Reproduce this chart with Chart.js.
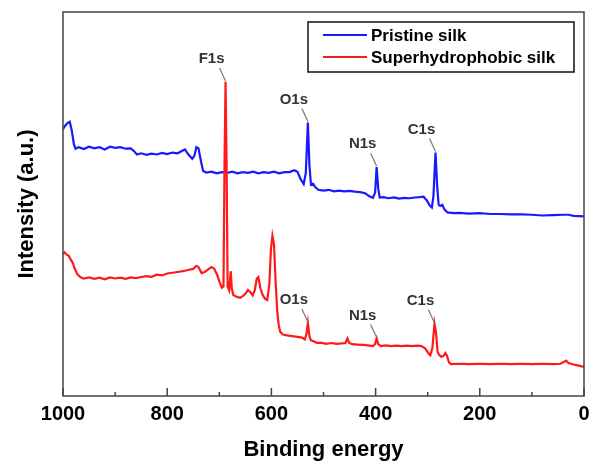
<!DOCTYPE html>
<html>
<head>
<meta charset="utf-8">
<script src="https://cdn.jsdelivr.net/npm/chart.js@4/dist/chart.umd.min.js"></script>
<style>
  html, body { margin: 0; padding: 0; background: #fff; }
  #wrap { width: 592px; height: 464px; }
</style>
</head>
<body>
<div id="wrap"><canvas id="xps"></canvas></div>
<script>
// XPS survey, values (arbitrary intensity 0-100)
const seriesNames = ["Pristine silk", "Superhydrophobic silk"];
const seriesColors = ["rgb(25,25,255)", "rgb(255,25,25)"];

const pristineEnergy = [1000, 997, 992, 987, 983, 979, 976, 970, 960, 950, 940, 930, 920, 910, 900, 890, 880, 870, 864, 858,
  850, 840, 830, 820, 810, 800, 790, 780, 772, 766, 760, 752, 748, 744, 740, 735, 731, 725, 715, 705,
  695, 685, 675, 665, 655, 645, 635, 625, 615, 605, 595, 585, 575, 565, 556, 550, 544, 538, 534, 530,
  527, 524, 520, 516, 510, 500, 490, 480, 470, 460, 450, 440, 430, 420, 412, 405, 401, 398, 395, 392,
  385, 375, 365, 355, 345, 335, 325, 315, 308, 302, 296, 292, 289, 285, 282, 279, 276, 272, 268, 262,
  250, 240, 220, 200, 180, 160, 140, 120, 100, 80, 60, 40, 30, 20, 0];
const pristineIntensity = [69.5, 70.2, 71.0, 71.4, 69.0, 65.5, 64.4, 64.8, 64.3, 64.9, 64.5, 64.8, 64.2, 64.9, 64.6, 64.8, 64.4, 64.5, 63.8, 62.9,
  63.2, 62.8, 63.1, 62.9, 63.3, 63.0, 63.4, 63.2, 63.8, 64.2, 63.0, 61.8, 62.5, 64.8, 64.5, 61.0, 58.6, 58.2, 58.4, 58.0,
  58.3, 58.1, 58.4, 58.0, 58.3, 58.1, 58.4, 58.0, 58.3, 58.1, 58.4, 58.0, 58.3, 58.3, 58.8, 58.4, 56.5, 55.2, 58.0, 71.2,
  60.0, 55.0, 55.3, 54.4, 53.7, 53.5, 53.7, 53.3, 53.5, 53.3, 53.4, 53.2, 53.1, 52.8, 52.0, 51.6, 53.0, 59.6, 54.0, 51.7,
  51.8, 51.5, 51.7, 51.4, 51.6, 51.5, 51.7, 51.8, 51.9, 51.0, 49.6, 49.1, 52.0, 63.4, 55.0, 49.8, 49.5, 49.8, 48.6, 47.8,
  47.6, 47.7, 47.5, 47.6, 47.4, 47.4, 47.3, 47.3, 47.2, 47.0, 47.1, 47.2, 47.2, 46.9, 46.8];

const superEnergy = [1000, 997, 993, 989, 985, 981, 977, 972, 966, 960, 950, 940, 930, 920, 910, 900, 890, 880, 870, 860,
  850, 840, 830, 820, 810, 800, 790, 780, 770, 760, 750, 744, 740, 734, 728, 722, 715, 710, 704, 699,
  695, 692, 690, 688, 686, 684, 681, 678, 676, 673, 668, 660, 655, 650, 645, 640, 636, 632, 628, 625,
  621, 617, 612, 608, 604, 601, 598, 595, 592, 589, 586, 583, 578, 570, 560, 550, 541, 536, 533, 530,
  527, 524, 518, 512, 505, 495, 485, 475, 465, 458, 454, 451, 445, 435, 425, 415, 405, 401, 398, 395,
  390, 380, 370, 360, 350, 340, 330, 320, 312, 305, 299, 295, 291, 287, 284, 281, 278, 274, 270, 266,
  263, 259, 255, 240, 220, 200, 180, 160, 140, 120, 100, 80, 60, 45, 38, 34, 30, 20, 10, 0];
const superIntensity = [37.0, 37.4, 36.8, 36.5, 35.5, 34.6, 33.0, 31.6, 30.9, 30.6, 30.9, 30.5, 30.8, 30.4, 30.9, 30.6, 30.8, 30.5, 30.9, 30.7,
  31.0, 31.2, 31.0, 31.6, 31.4, 31.9, 32.1, 32.3, 32.5, 32.8, 33.1, 33.9, 33.6, 32.0, 32.3, 32.9, 33.6, 33.2, 31.5, 29.5,
  28.2, 28.5, 60.0, 81.8, 60.0, 28.5, 27.5, 32.5, 28.0, 26.3, 25.9, 25.6, 26.0, 26.6, 27.6, 27.0, 26.2, 27.5, 30.6, 31.0,
  28.0, 26.4, 25.3, 25.0, 29.0, 38.0, 41.7, 39.5, 30.0, 22.5, 18.5, 16.7, 16.0, 15.8, 15.6, 15.4, 15.2, 14.7, 16.0, 19.0,
  15.5, 14.5, 14.2, 13.8, 13.9, 13.6, 13.8, 13.6, 13.7, 13.8, 15.0, 13.9, 13.5, 13.4, 13.3, 13.2, 13.0, 13.5, 15.0, 13.5,
  13.0, 13.2, 13.0, 13.1, 13.0, 13.1, 13.0, 13.1, 13.0, 12.4, 11.2, 10.6, 12.5, 18.8, 16.5, 11.5, 10.7, 10.2, 10.4, 11.2,
  10.5, 8.7, 8.3, 8.4, 8.3, 8.4, 8.3, 8.4, 8.3, 8.4, 8.3, 8.4, 8.3, 8.4, 8.9, 9.2, 8.6, 8.2, 7.9, 7.6];

// x axis ticks
const majorTicks = [1000, 800, 600, 400, 200, 0];
const minorTicks = [900, 700, 500, 300, 100];

// peak labels: name, which series, energy of the peak point
const peakNames = ["F1s", "O1s", "N1s", "C1s", "O1s", "N1s", "C1s"];
const peakSeries = [1, 0, 0, 0, 1, 1, 1];
const peakEnergy = [688, 530, 398, 285, 530, 398, 287];

const FONT = "'Liberation Sans', Arial, sans-serif";

function pairs(xs, ys) {
  return xs.map((x, i) => ({ x: x, y: ys[i] }));
}

const seriesEnergy = [pristineEnergy, superEnergy];
const seriesIntensity = [pristineIntensity, superIntensity];

const decorations = {
  id: "decorations",
  afterDatasetsDraw(chart) {
    const ctx = chart.ctx;
    const a = chart.chartArea;
    const xs = chart.scales.x;
    const ys = chart.scales.y;
    ctx.save();

    // peak labels with leader lines
    ctx.font = "bold 15px " + FONT;
    ctx.fillStyle = "#333";
    ctx.textAlign = "center";
    ctx.textBaseline = "middle";
    peakNames.forEach((name, i) => {
      const s = peakSeries[i];
      const idx = seriesEnergy[s].indexOf(peakEnergy[i]);
      const px = xs.getPixelForValue(peakEnergy[i]);
      const py = ys.getPixelForValue(seriesIntensity[s][idx]);
      ctx.strokeStyle = "#777";
      ctx.lineWidth = 1.2;
      ctx.beginPath();
      ctx.moveTo(px - 6, py - 14);
      ctx.lineTo(px, py - 1);
      ctx.stroke();
      ctx.fillText(name, px - 14, py - 23);
    });

    // frame
    ctx.strokeStyle = "#444";
    ctx.lineWidth = 1.5;
    ctx.strokeRect(a.left, a.top, a.right - a.left, a.bottom - a.top);

    // inward ticks
    ctx.beginPath();
    majorTicks.forEach(v => {
      const x = xs.getPixelForValue(v);
      ctx.moveTo(x, a.bottom);
      ctx.lineTo(x, a.bottom - 8);
    });
    minorTicks.forEach(v => {
      const x = xs.getPixelForValue(v);
      ctx.moveTo(x, a.bottom);
      ctx.lineTo(x, a.bottom - 4);
    });
    ctx.stroke();

    // legend box
    const bx = a.right - 276, by = a.top + 10, bw = 266, bh = 50;
    ctx.fillStyle = "#fff";
    ctx.fillRect(bx, by, bw, bh);
    ctx.strokeStyle = "#111";
    ctx.lineWidth = 1.5;
    ctx.strokeRect(bx, by, bw, bh);
    ctx.font = "bold 17px " + FONT;
    ctx.textAlign = "left";
    seriesNames.forEach((name, i) => {
      const ry = by + 13 + i * 22;
      ctx.strokeStyle = seriesColors[i];
      ctx.lineWidth = 2;
      ctx.beginPath();
      ctx.moveTo(bx + 15, ry);
      ctx.lineTo(bx + 59, ry);
      ctx.stroke();
      ctx.fillStyle = "#000";
      ctx.fillText(name, bx + 63, ry + 1);
    });
    ctx.restore();
  }
};

new Chart(document.getElementById("xps"), {
  type: "line",
  data: {
    datasets: seriesNames.map((name, i) => ({
      label: name,
      data: pairs(seriesEnergy[i], seriesIntensity[i]),
      borderColor: seriesColors[i],
      borderWidth: 2.2,
      pointRadius: 0,
      tension: 0,
      order: i === 0 ? 1 : 0
    }))
  },
  options: {
    responsive: true,
    maintainAspectRatio: false,
    animation: false,
    layout: { padding: { top: 12, right: 8, left: 0, bottom: 0 } },
    plugins: {
      legend: { display: false },
      tooltip: { enabled: false }
    },
    scales: {
      x: {
        type: "linear",
        reverse: true,
        min: 0,
        max: 1000,
        grid: { display: false, drawTicks: false },
        border: { display: false },
        ticks: {
          stepSize: 200,
          padding: 6,
          color: "#000",
          font: { family: FONT, size: 20, weight: "bold" },
          callback: v => String(v)
        },
        title: {
          display: true,
          text: "Binding energy",
          color: "#000",
          font: { family: FONT, size: 22, weight: "bold" },
          padding: { top: 0, bottom: 1 }
        },
        afterFit: s => {
          s.height = 68;
          s.paddingLeft = 0;
          s.paddingRight = 0;
        }
      },
      y: {
        min: 0,
        max: 100,
        grid: { display: false, drawTicks: false },
        border: { display: false },
        ticks: { display: false },
        title: {
          display: true,
          text: "Intensity (a.u.)",
          color: "#000",
          font: { family: FONT, size: 22, weight: "bold" },
          padding: { top: 14, bottom: 0 }
        },
        afterFit: s => { s.width = 63; }
      }
    }
  },
  plugins: [decorations]
});
</script>
</body>
</html>
